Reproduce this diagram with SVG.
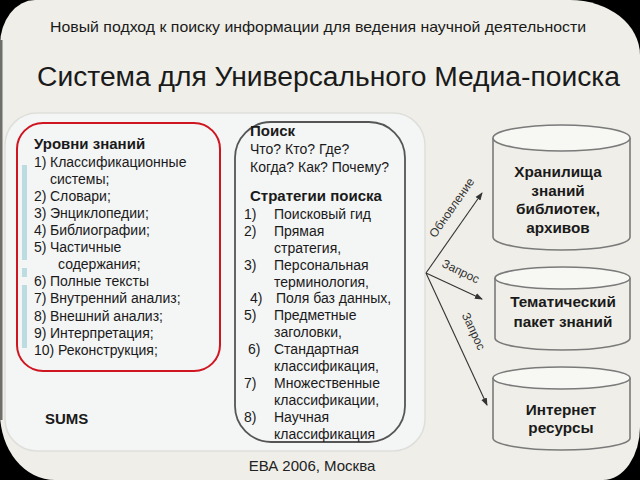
<svg xmlns="http://www.w3.org/2000/svg" width="640" height="480" viewBox="0 0 640 480">
<defs>
<marker id="ah" markerWidth="8" markerHeight="8" refX="7" refY="4" orient="auto" markerUnits="userSpaceOnUse">
<path d="M0,1 L8,4 L0,7 Z" fill="#333"/>
</marker>
<style>
text{font-family:"Liberation Sans","DejaVu Sans",Arial,sans-serif;fill:#1a1a1a}
.t{font-size:14px}
.b{font-size:15px;font-weight:bold}
.cyl{fill:#efeee8;stroke:#7a7a7a;stroke-width:1.6}
.top{fill:#f7f7f4;stroke:#7a7a7a;stroke-width:1.6}
.ct{font-size:15.3px;font-weight:bold;text-anchor:middle}
.conn{stroke:#333;stroke-width:1.1;fill:none;marker-end:url(#ah)}
.lab{font-size:12px;fill:#333}
</style>
</defs>
<rect x="0" y="0" width="640" height="480" fill="#000"/>
<path d="M35,0 H570 A70,55 0 0 1 640,55 V427 A37,53 0 0 1 603,480 H55 A55,67 0 0 1 0,413 V45 A35,45 0 0 1 35,0 Z" fill="#efeee8"/>
<rect x="0" y="40" width="2.5" height="380" fill="#6e6e6a"/>

<text x="318" y="32" text-anchor="middle" style="font-size:14.5px" textLength="536" lengthAdjust="spacingAndGlyphs">Новый подход к поиску информации для ведения научной деятельности</text>
<text x="37" y="86" style="font-size:27px" textLength="583" lengthAdjust="spacingAndGlyphs">Система для Универсального Медиа-поиска</text>

<g id="panel">
<rect x="5" y="113" width="420" height="338" rx="32" ry="32" fill="#f4f5f5" stroke="#dedfdb" stroke-width="1.5"/>
</g>

<g id="levels">
<rect x="22" y="165" width="5" height="95" fill="#bddce2"/>
<rect x="22" y="268" width="5" height="9" fill="#bddce2"/>
<rect x="22" y="285" width="5" height="63" fill="#bddce2"/>
<rect x="17" y="123" width="203" height="248" rx="26" ry="26" fill="none" stroke="#cf1520" stroke-width="2"/>
<text x="34" y="149" class="b">Уровни знаний</text>
<text class="t">
<tspan x="34" y="167">1)</tspan><tspan x="50" y="167">Классификационные</tspan>
<tspan x="50" y="184">системы;</tspan>
<tspan x="34" y="201">2)</tspan><tspan x="50" y="201">Словари;</tspan>
<tspan x="34" y="218">3)</tspan><tspan x="50" y="218">Энциклопедии;</tspan>
<tspan x="34" y="235">4)</tspan><tspan x="50" y="235">Библиографии;</tspan>
<tspan x="34" y="252">5)</tspan><tspan x="50" y="252">Частичные</tspan>
<tspan x="58" y="269">содержания;</tspan>
<tspan x="34" y="286">6)</tspan><tspan x="50" y="286">Полные тексты</tspan>
<tspan x="34" y="303">7)</tspan><tspan x="50" y="303">Внутренний анализ;</tspan>
<tspan x="34" y="321">8)</tspan><tspan x="50" y="321">Внешний анализ;</tspan>
<tspan x="34" y="338">9)</tspan><tspan x="50" y="338">Интерпретация;</tspan>
<tspan x="34" y="355">10)</tspan><tspan x="58" y="355">Реконструкция;</tspan>
</text>
<text x="45" y="424" class="b">SUMS</text>
</g>

<g id="search">
<rect x="235" y="122" width="170" height="320" rx="36" ry="36" fill="none" stroke="#555" stroke-width="1.8"/>
<text x="250" y="136" class="b">Поиск</text>
<text x="250" y="154" class="t">Что? Кто? Где?</text>
<text x="250" y="172" class="t">Когда? Как? Почему?</text>
<text x="250" y="201" class="b">Стратегии поиска</text>
<text class="t">
<tspan x="244" y="219">1)</tspan><tspan x="274" y="219">Поисковый гид</tspan>
<tspan x="244" y="236">2)</tspan><tspan x="274" y="236">Прямая</tspan>
<tspan x="274" y="253">стратегия,</tspan>
<tspan x="244" y="270">3)</tspan><tspan x="274" y="270">Персональная</tspan>
<tspan x="274" y="287">терминология,</tspan>
<tspan x="250" y="303">4)</tspan><tspan x="276" y="303">Поля баз данных,</tspan>
<tspan x="244" y="320">5)</tspan><tspan x="274" y="320">Предметные</tspan>
<tspan x="274" y="337">заголовки,</tspan>
<tspan x="248" y="354">6)</tspan><tspan x="274" y="354">Стандартная</tspan>
<tspan x="274" y="371">классификация,</tspan>
<tspan x="244" y="388">7)</tspan><tspan x="274" y="388">Множественные</tspan>
<tspan x="274" y="405">классификации,</tspan>
<tspan x="244" y="422">8)</tspan><tspan x="274" y="422">Научная</tspan>
<tspan x="274" y="439">классификация</tspan>
</text>
</g>

<g id="repo1">
<path class="cyl" d="M493,138 V237 A68.5,13 0 0 0 630,237 V138"/>
<ellipse class="top" cx="561.5" cy="138" rx="68.5" ry="13"/>
<text class="ct" x="558" y="177">Хранилища</text>
<text class="ct" x="558" y="196">знаний</text>
<text class="ct" x="558" y="214">библиотек,</text>
<text class="ct" x="558" y="233">архивов</text>
</g>

<g id="repo2">
<path class="cyl" d="M495,278 V338 A67.5,12 0 0 0 630,338 V278"/>
<ellipse class="top" cx="562.5" cy="278" rx="67.5" ry="11"/>
<text class="ct" x="563" y="307">Тематический</text>
<text class="ct" x="563" y="327">пакет знаний</text>
</g>

<g id="repo3">
<path class="cyl" d="M493,378 V438 A68.5,12 0 0 0 630,438 V378"/>
<ellipse class="top" cx="561.5" cy="378" rx="68.5" ry="11"/>
<text class="ct" x="561" y="415">Интернет</text>
<text class="ct" x="561" y="433">ресурсы</text>
</g>

<g id="connectors">
<line class="conn" x1="426" y1="273" x2="482" y2="193"/>
<line class="conn" x1="426" y1="273" x2="482" y2="299"/>
<line class="conn" x1="426" y1="273" x2="487" y2="405"/>
<text class="lab" transform="translate(455,210) rotate(-55)" text-anchor="middle">Обновление</text>
<text class="lab" transform="translate(459,275) rotate(26)" text-anchor="middle">Запрос</text>
<text class="lab" transform="translate(470,333) rotate(65)" text-anchor="middle">Запрос</text>
</g>

<text x="312" y="471" text-anchor="middle" style="font-size:15px;fill:#222">ЕВА 2006, Москва</text>
</svg>
